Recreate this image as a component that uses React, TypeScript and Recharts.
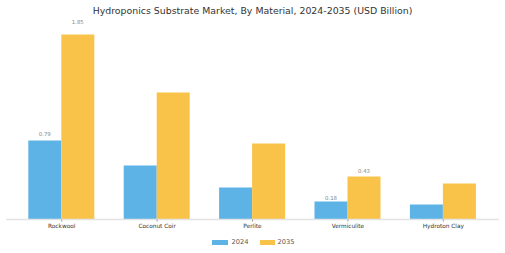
import { BarChart, Bar, XAxis, YAxis, LabelList } from 'recharts'

const categories = ['Rockwool', 'Coconut Coir', 'Perlite', 'Vermiculite', 'Hydroton Clay']
const values2024 = [0.79, 0.54, 0.32, 0.18, 0.15]
const values2035 = [1.85, 1.27, 0.76, 0.43, 0.36]
const labeledCategories = ['Rockwool', 'Vermiculite']

const BLUE = '#5db3e6'
const YELLOW = '#f9c34a'
const FONT = '"DejaVu Sans", sans-serif'

const data = categories.map((name, i) => ({
  name,
  y2024: values2024[i],
  y2035: values2035[i],
}))

function ValueLabel(props: any): JSX.Element | null {
  const { x, y, width, height, value, index } = props
  if (!labeledCategories.includes(categories[index])) return null
  const cy = y - (0.05 * height + 3)
  return (
    <text
      x={x + width / 2}
      y={cy}
      textAnchor="middle"
      dominantBaseline="central"
      fontSize={5.4}
      fontFamily={FONT}
      fill="#888"
    >
      {value.toFixed(2)}
    </text>
  )
}

export default function App(): JSX.Element {
  return (
    <div style={{ position: 'absolute', left: 0, top: 0, width: 505, height: 253, background: '#fff', fontFamily: FONT }}>
      <div
        style={{
          position: 'absolute',
          top: 4.5,
          left: 0,
          width: 505,
          textAlign: 'center',
          fontSize: 9.4,
          color: '#333',
          lineHeight: '12px',
        }}
      >
        Hydroponics Substrate Market, By Material, 2024-2035 (USD Billion)
      </div>
      <BarChart
        width={505}
        height={253}
        data={data}
        margin={{ top: 19.5, right: 6, bottom: 13.5, left: 6 }}
        barCategoryGap="15%"
        barGap={0}
      >
        <XAxis
          dataKey="name"
          height={20}
          padding={{ left: 8, right: 8 }}
          axisLine={{ stroke: '#e3e3e3', strokeWidth: 1.5 }}
          tickLine={{ stroke: '#999' }}
          tickSize={2}
          tickMargin={2}
          interval={0}
          tick={{ fontSize: 5.8, fill: '#333', fontFamily: FONT }}
        />
        <YAxis hide domain={[0, 2]} />
        <Bar dataKey="y2024" fill={BLUE} isAnimationActive={false}>
          <LabelList dataKey="y2024" content={ValueLabel} />
        </Bar>
        <Bar dataKey="y2035" fill={YELLOW} isAnimationActive={false}>
          <LabelList dataKey="y2035" content={ValueLabel} />
        </Bar>
      </BarChart>
      <div
        style={{
          position: 'absolute',
          top: 237,
          left: 0,
          width: 505,
          display: 'flex',
          justifyContent: 'center',
          gap: 11,
          fontSize: 6.7,
          color: '#555',
          lineHeight: '10px',
          paddingLeft: 1,
        }}
      >
        <div style={{ display: 'flex', alignItems: 'center', gap: 3 }}>
          <div style={{ width: 16, height: 5, background: BLUE }} /> 2024
        </div>
        <div style={{ display: 'flex', alignItems: 'center', gap: 3 }}>
          <div style={{ width: 15, height: 5, background: YELLOW }} /> 2035
        </div>
      </div>
    </div>
  )
}
